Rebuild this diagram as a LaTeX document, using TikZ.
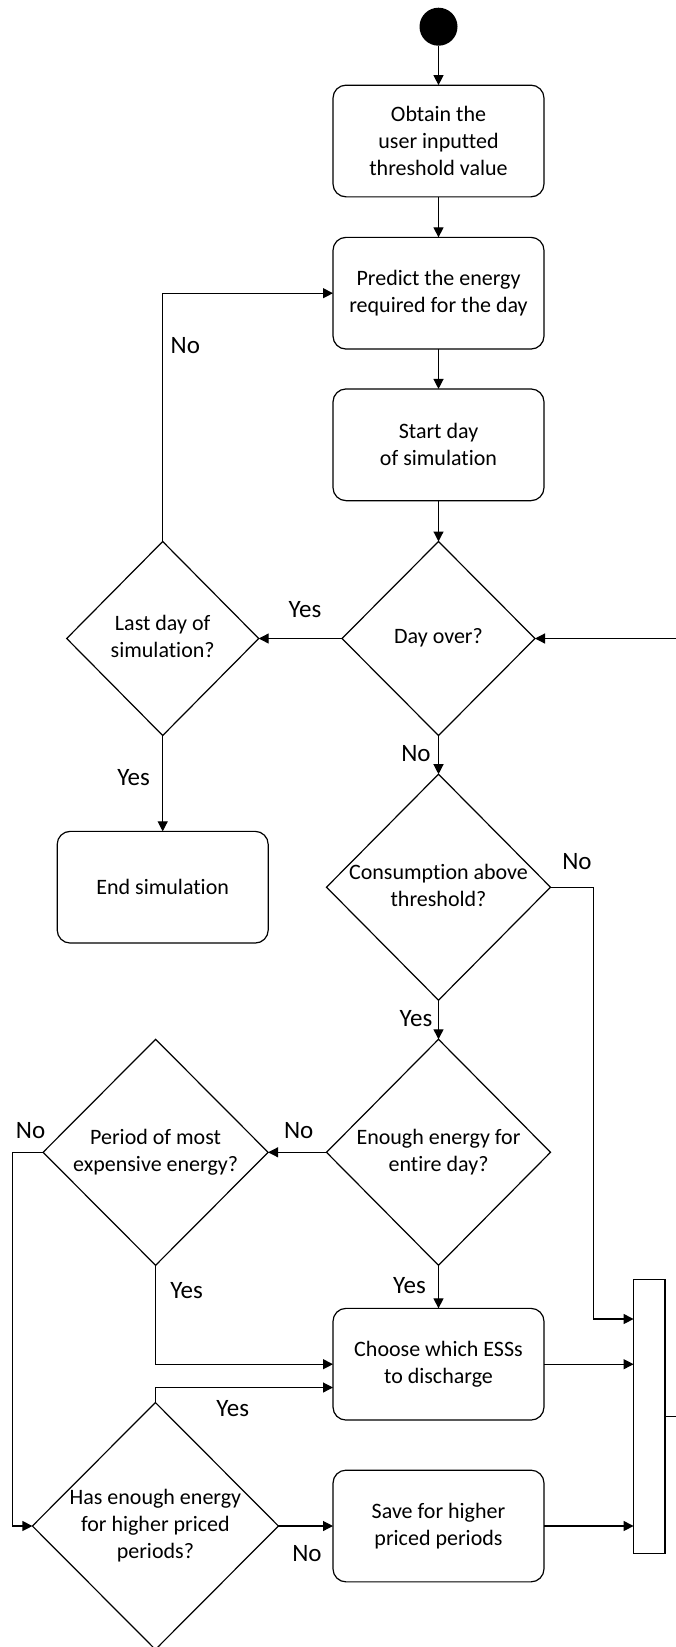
\documentclass[tikz,border=0pt]{standalone}
\usepackage{fontspec}
\setmainfont{Carlito}[Ligatures={NoCommon}]
\usetikzlibrary{shapes.geometric,arrows.meta,calc}
% centred multi-line text that does not widen a diamond
\newcommand\dtxt[1]{\makebox[0pt]{\begin{tabular}{@{}c@{}}#1\end{tabular}}}

\begin{document}
\begin{tikzpicture}[x=1pt,y=-1pt,
  line width=1.2pt,
  every node/.style={outer sep=0pt},
  proc/.style={draw, rounded corners=13pt, minimum width=211pt, minimum height=111.7pt,
    align=center, inner sep=0pt, font=\fontsize{22}{27}\selectfont},
  dec/.style={draw, diamond, inner sep=0pt, font=\fontsize{22}{27}\selectfont},
  lbl/.style={inner sep=0pt, font=\fontsize{25}{30}\selectfont},
  arr/.style={-{Triangle[length=10pt,width=10pt]}},
]
\clip (0,0) rectangle (676,1647);

% activities and decisions
\node[circle, fill=black, minimum size=38pt, inner sep=0pt] (start) at (438.5,26.7) {};
\node[proc] (obtain)   at (438.5,141)   {Obtain the\\user inputted\\threshold value};
\node[proc] (predict)  at (438.5,293.2) {Predict the energy\\required for the day};
\node[proc] (startday) at (438.5,444.8) {Start day\\of simulation};
\node[dec, minimum width=193pt, minimum height=194pt] (dayover) at (438.5,638.5) {\dtxt{Day over?}};
\node[dec, minimum width=192pt, minimum height=194pt] (lastday) at (162.7,638.5) {\dtxt{Last day of\\simulation?}};
\node[proc] (endsim) at (162.7,887.2) {End simulation};
\node[dec, minimum width=224pt, minimum height=226pt] (consumption) at (438.5,887.2) {\dtxt{Consumption above\\threshold?}};
\node[dec, minimum width=224pt, minimum height=226pt] (enough) at (438.5,1152.3) {\dtxt{Enough energy for\\entire day?}};
\node[dec, minimum width=225pt, minimum height=226pt] (period) at (155.6,1152.3) {\dtxt{Period of most\\expensive energy?}};
\node[proc] (choose) at (438.5,1364.2) {Choose which ESSs\\to discharge};
\node[dec, minimum width=246pt, minimum height=247pt] (hasenough) at (155.4,1526) {\dtxt{Has enough energy\\for higher priced\\periods?}};
\node[proc] (save) at (438.5,1526) {Save for higher\\priced periods};
\node[draw, minimum width=31.4pt, minimum height=274pt, inner sep=0pt] (bar) at (649.3,1416.3) {};

% flows
\draw[arr] (start) -- (obtain);
\draw[arr] (obtain) -- (predict);
\draw[arr] (predict) -- (startday);
\draw[arr] (startday) -- (dayover);
\draw[arr] (dayover) -- (lastday);
\draw[arr] (lastday.north) |- (predict.west);
\draw[arr] (lastday) -- (endsim);
\draw[arr] (dayover) -- (consumption);
\draw[arr] (consumption) -- (enough);
\draw[arr] (consumption.east) -- ++(42.6,0) |- ([yshift=-39.7pt]bar.north west);
\draw[arr] (enough) -- (period);
\draw[arr] (enough) -- (choose);
\draw[arr] (period.south) |- (choose.west);
\draw[arr] (period.west) -- ++(-31,0) |- (hasenough.west);
\draw[arr] (hasenough.north) |- ([yshift=-23.3pt]choose.west);
\draw[arr] (hasenough) -- (save);
\draw[arr] (choose.east) -- (choose.east -| bar.west);
\draw[arr] (save.east) -- (save.east -| bar.west);
\draw[arr] (bar.east) -- ++(25,0) |- (dayover.east);

% branch labels
\node[lbl] (l1)  at (185.3,346)    {No};
\node[lbl] (l2)  at (305,609.5)    {Yes};
\node[lbl] (l3)  at (416,753.8)    {No};
\node[lbl] (l4)  at (133.6,778)    {Yes};
\node[lbl] (l5)  at (577,861.2)    {No};
\node[lbl] (l6)  at (416,1018.7)   {Yes};
\node[lbl] (l7)  at (298.7,1130.5) {No};
\node[lbl] (l8)  at (30.6,1130.5)  {No};
\node[lbl] (l9)  at (186.6,1290.7) {Yes};
\node[lbl] (l10) at (409.5,1285.3) {Yes};
\node[lbl] (l11) at (232.8,1408.7) {Yes};
\node[lbl] (l12) at (307,1553.3)   {No};
\end{tikzpicture}
\end{document}
